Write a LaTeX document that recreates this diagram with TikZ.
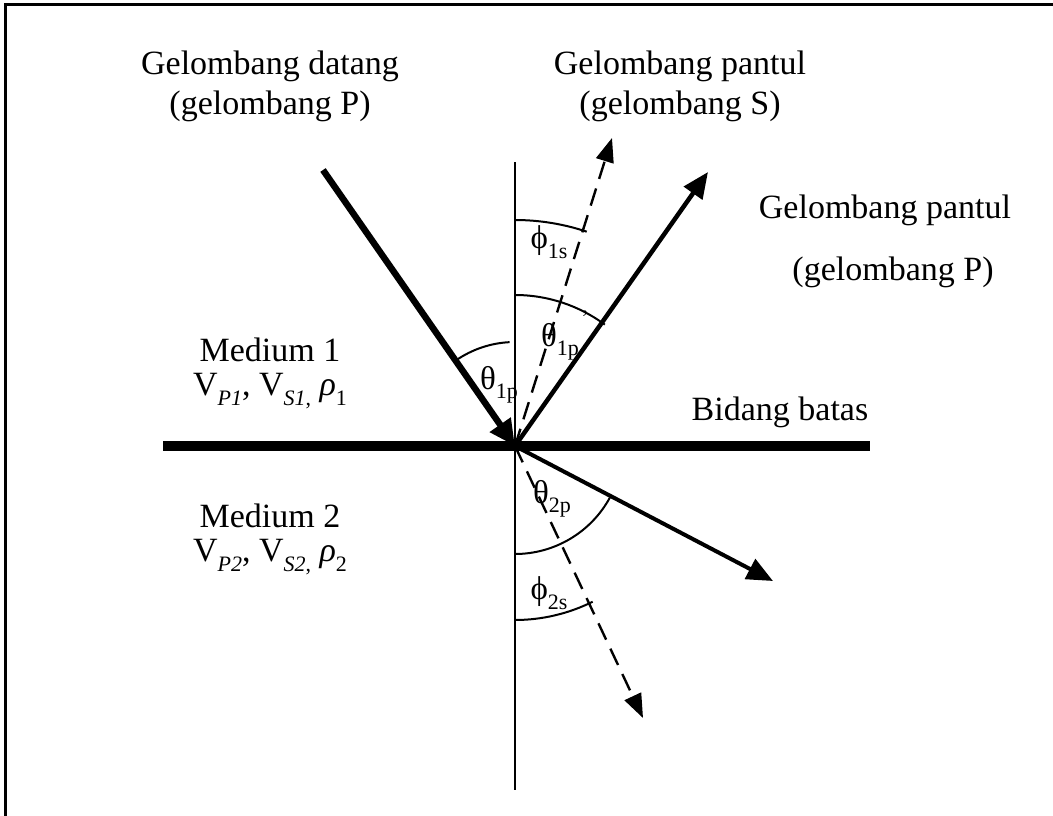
\documentclass[tikz,border=0pt]{standalone}
\usepackage{fontspec}
\setmainfont{Liberation Serif}
\usetikzlibrary{arrows.meta}
\newcommand{\lbsub}[1]{\raisebox{-0.28em}[0pt][0pt]{\fontsize{22}{22}\selectfont #1}}
\tikzset{
  lbl/.style={font=\fontsize{34}{40}\selectfont, inner sep=0pt, align=center},
  ang/.style={font=\fontsize{33}{40}\selectfont, inner sep=0pt},
  arcline/.style={line width=2pt},
  thickray/.style={line width=6.5pt, -{Triangle[length=26pt,width=24pt]}},
  midray/.style={line width=4.5pt, -{Triangle[length=26pt,width=22pt]}},
  dashray/.style={line width=2.4pt, dash pattern=on 18pt off 10pt, -{Triangle[length=24pt,width=18pt]}},
}
\begin{document}
\begin{tikzpicture}[x=1pt,y=1pt]
\useasboundingbox (0,0) rectangle (1053,-816);
% frame
\draw[line width=3pt] (5,-816) -- (5,-5) -- (1053,-5);
% coordinates
\coordinate (O) at (515,-446);
\coordinate (vtop) at (515,-162);
\coordinate (vbot) at (515,-790);
\coordinate (bl) at (163,-446);
\coordinate (br) at (870,-446);
\coordinate (inc) at (323,-170);
\coordinate (rp) at (708,-172);
\coordinate (rs) at (612,-138);
\coordinate (tp) at (773,-581);
\coordinate (ts) at (643,-718);
% normal and boundary
\draw[line width=2pt] (vtop) -- (vbot);
\draw[line width=10pt] (bl) -- (br);
% rays
\draw[thickray] (inc) -- (O);
\draw[midray] (O) -- (rp);
\draw[dashray] (O) -- (rs);
\draw[midray, line width=4pt] (O) -- (tp);
\draw[dashray] (O) -- (ts);
% arcs
\draw[arcline] (O) ++(93:104) arc[start angle=93,end angle=124.5,radius=104];
\draw[arcline] (O) ++(90:151) arc[start angle=90,end angle=53.5,radius=151];
\draw[arcline] (O) ++(90:226) arc[start angle=90,end angle=71.5,radius=226];
\draw[arcline] (O) ++(-90:108) arc[start angle=-90,end angle=-28.5,radius=108];
\draw[arcline] (O) ++(-90:174) arc[start angle=-90,end angle=-63.5,radius=174];
% angle labels
\node[ang] (a1) at (499,-378) {θ\lbsub{1p}};
\node[ang] (a2) at (560,-335) {θ\lbsub{1p}};
\node[ang] (a2p) at (585,-318) {\fontsize{22}{22}\selectfont ’};
\node[ang] (a3) at (549,-241) {ϕ\lbsub{1s}};
\node[ang] (a4) at (552,-492) {θ\lbsub{2p}};
\node[ang] (a5) at (549,-592) {ϕ\lbsub{2s}};
% texts
\node[lbl] (t1) at (270,-86) {Gelombang datang\\(gelombang P)};
\node[lbl] (t2) at (680,-86) {Gelombang pantul\\(gelombang S)};
\node[lbl] (t3) at (885,-210) {Gelombang pantul};
\node[lbl] (t4) at (893,-272) {(gelombang P)};
\node[lbl] (m1) at (270,-350) {Medium 1};
\node[lbl] (m1v) at (270,-388) {V\lbsub{\textit{P1}}, V\lbsub{\textit{S1},} \textit{ρ}\lbsub{1}};
\node[lbl] (bb) at (780,-412) {Bidang batas};
\node[lbl] (m2) at (270,-516) {Medium 2};
\node[lbl] (m2v) at (270,-554) {V\lbsub{\textit{P2}}, V\lbsub{\textit{S2},} \textit{ρ}\lbsub{2}};
\end{tikzpicture}
\end{document}
